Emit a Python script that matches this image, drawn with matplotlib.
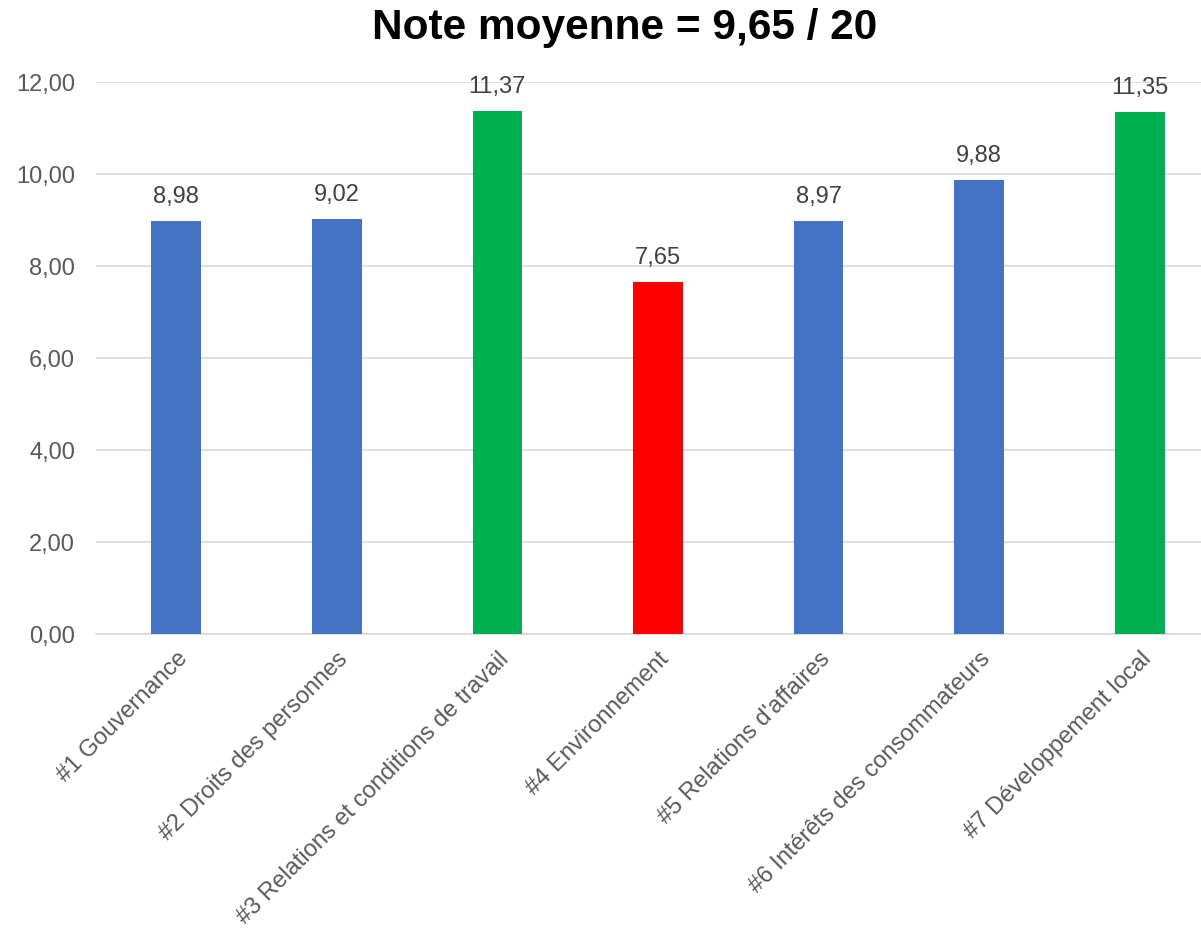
import matplotlib.pyplot as plt

categories = ["#1 Gouvernance", "#2 Droits des personnes",
              "#3 Relations et conditions de travail", "#4 Environnement",
              "#5 Relations d'affaires", "#6 Intérêts des consommateurs",
              "#7 Développement local"]
notes = [8.98, 9.02, 11.37, 7.65, 8.97, 9.88, 11.35]
bar_colors = ["#4472C4", "#4472C4", "#00B050", "#FF0000",
              "#4472C4", "#4472C4", "#00B050"]
yticks = [0, 2, 4, 6, 8, 10, 12]

plt.rcParams['font.family'] = ['Liberation Sans', 'DejaVu Sans']

fig = plt.figure(figsize=(12.01, 9.31), dpi=100)
ax = fig.add_axes([96 / 1201, 297 / 931, 1124 / 1201, 552 / 931])

x = list(range(len(categories)))
bars = ax.bar(x, notes, width=0.31, color=bar_colors, zorder=3)
for xi, v in zip(x, notes):
    ax.text(xi, v + 0.52, f"{v:.2f}".replace('.', ','), ha='center', va='center',
            fontsize=17, color='#404040')

ax.set_xlim(-0.5, 6.5)
ax.set_ylim(0, 12)
ax.set_yticks(yticks)
ax.set_yticklabels([f"{t:.2f}".replace('.', ',') for t in yticks],
                   fontsize=17, color='#595959')
ax.set_xticks(x)
ax.set_xticklabels(categories, rotation=45, ha='right', rotation_mode='anchor',
                   fontsize=17, color='#595959')
ax.tick_params(axis='both', length=0)
ax.tick_params(axis='y', pad=15)
ax.tick_params(axis='x', pad=10)
ax.grid(axis='y', color='#D9D9D9', linewidth=1.2, zorder=0)
for s in ['top', 'right', 'left']:
    ax.spines[s].set_visible(False)
ax.spines['bottom'].set_color('#D9D9D9')
ax.spines['bottom'].set_linewidth(1.2)

fig.text(625 / 1201, 1 - 28 / 931, "Note moyenne = 9,65 / 20", ha='center',
         va='center', fontsize=30.5, fontweight='bold', color='black')

fig.savefig('out.png', dpi=100)
